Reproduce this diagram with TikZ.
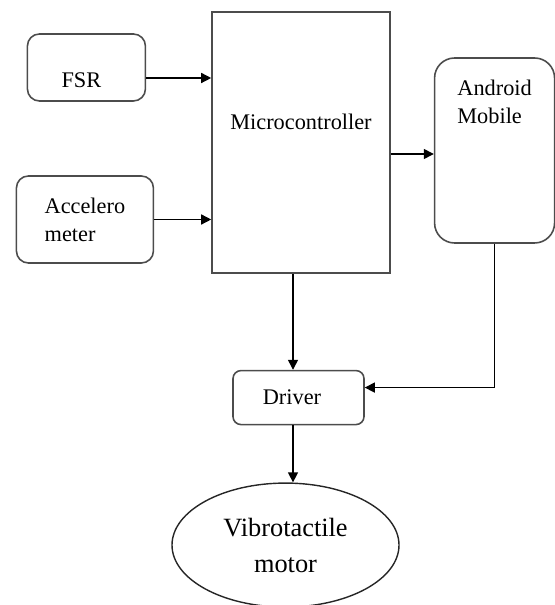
\documentclass[tikz,border=0pt]{standalone}
\usepackage{fontspec}
\setmainfont{Liberation Serif}
\usepackage{tikz}
\usetikzlibrary{positioning}
\usetikzlibrary{arrows.meta,shapes.geometric,calc}

\begin{document}
\begin{tikzpicture}[>={Triangle[length=2mm,width=2mm]},
    blockbox/.style={rectangle, draw=black!70, line width=0.9pt, inner sep=0pt,
      font=\fontsize{12.7}{15.9}\selectfont},
    roundbox/.style={blockbox, rounded corners=2.4mm},
    motornode/.style={ellipse, draw=black!85, line width=0.8pt, inner sep=0pt,
      minimum width=4.54cm, minimum height=2.48cm, align=center,
      font=\fontsize{15}{20.5}\selectfont},
    conn/.style={->, line width=0.8pt}]

  \useasboundingbox (0,0) rectangle (11.08,12.1);

  % Define nodes
  \node[blockbox, minimum width=3.56cm, minimum height=5.22cm,
    label={[yshift=4.1mm, font=\fontsize{12.7}{15.9}\selectfont]center:Microcontroller}]
    at (6.02,9.25) (mc) {};

  \node[roundbox, minimum width=2.36cm, minimum height=1.34cm,
    left=1.3cm of mc, yshift=1.5cm,
    label={[xshift=-1mm, yshift=-2.5mm, font=\fontsize{12.7}{15.9}\selectfont]center:FSR}]
    (fsr) {};

  \node[roundbox, minimum width=2.74cm, minimum height=1.74cm, align=left,
    left=1.14cm of mc, yshift=-1.54cm] (acc) {Accelero\\meter};

  \node[roundbox, rounded corners=4mm, minimum width=2.4cm, minimum height=3.7cm,
    right=0.86cm of mc, yshift=-0.16cm,
    label={[yshift=9.7mm, align=left, font=\fontsize{12.7}{15.9}\selectfont]center:Android\\Mobile}]
    (and) {};

  \node[roundbox, rounded corners=1.6mm, minimum width=2.62cm, minimum height=1.08cm,
    below=1.92cm of mc, xshift=-0.05cm,
    label={[xshift=-1.3mm, font=\fontsize{12.7}{15.9}\selectfont]center:Driver}]
    (drv) {};

  \node[motornode, below=1.14cm of drv, xshift=-0.26cm] (mot) {Vibrotactile\\motor};

  % Connectors
  \draw[conn] ([yshift=-2.1mm]fsr.east) -- ([yshift=-2.1mm]fsr.east -| mc.west);
  \draw[conn] (acc.east) -- (acc.east -| mc.west);
  \draw[conn] ([yshift=-0.7mm]and.west -| mc.east) -- ([yshift=-0.7mm]and.west);
  \draw[conn] ([xshift=-1.6mm]mc.south) -- ([xshift=-1.6mm]mc.south |- drv.north);
  \draw[conn] (and.south) |- ([yshift=2mm]drv.east);
  \draw[conn] ([xshift=-1.1mm]drv.south) -- ([xshift=-1.1mm]drv.south |- mot.north);

\end{tikzpicture}
\end{document}
